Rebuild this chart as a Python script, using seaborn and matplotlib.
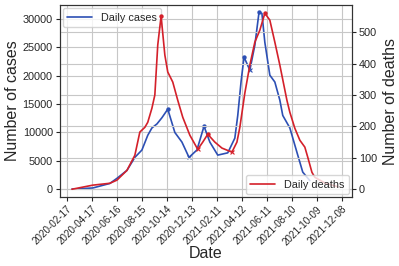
import matplotlib

matplotlib.use("Agg")
import matplotlib.dates as mdates
import matplotlib.pyplot as plt
import pandas as pd
import seaborn as sns

# --- Data ---
CASE_DATES = [
    "2020-02-29", "2020-04-19", "2020-05-30", "2020-06-16", "2020-07-10",
    "2020-07-29", "2020-08-15", "2020-08-29", "2020-09-08", "2020-09-20",
    "2020-10-02", "2020-10-16", "2020-11-02", "2020-11-19", "2020-12-06",
    "2020-12-25", "2021-01-11", "2021-01-25", "2021-02-13", "2021-03-09",
    "2021-03-26", "2021-04-02", "2021-04-10", "2021-04-17", "2021-05-01",
    "2021-05-13", "2021-05-23", "2021-05-30", "2021-06-06", "2021-06-18",
    "2021-06-30", "2021-07-12", "2021-07-19", "2021-08-05", "2021-08-22",
    "2021-09-05", "2021-09-22",
]
DAILY_CASES = [
    0, 200, 1000, 1900, 3300,
    5600, 6900, 9500, 10800, 11500,
    12600, 14100, 10000, 8300, 5600,
    6900, 11100, 8300, 6000, 6400,
    9000, 13000, 19000, 23300, 21000,
    25400, 31200, 31000, 25900, 20100,
    18900, 15700, 13000, 10800, 6500,
    3000, 1500,
]
CASE_PEAKS = ["2020-10-16", "2021-01-11", "2021-04-17", "2021-05-23"]
CASE_TROUGHS = ["2020-12-06", "2021-05-01"]

DEATH_DATES = [
    "2020-02-29", "2020-04-19", "2020-05-30", "2020-06-16", "2020-07-10",
    "2020-07-29", "2020-08-10", "2020-08-22", "2020-08-29", "2020-09-08",
    "2020-09-15", "2020-09-22", "2020-09-30", "2020-10-09", "2020-10-16",
    "2020-10-28", "2020-11-09", "2020-11-21", "2020-12-08", "2020-12-27",
    "2021-01-08", "2021-01-20", "2021-02-06", "2021-02-23", "2021-03-19",
    "2021-03-31", "2021-04-07", "2021-04-19", "2021-05-01", "2021-05-13",
    "2021-05-25", "2021-06-06", "2021-06-18", "2021-06-30", "2021-07-12",
    "2021-07-29", "2021-08-05", "2021-08-17", "2021-08-29", "2021-09-10",
    "2021-09-17", "2021-09-27", "2021-10-04", "2021-10-28", "2021-11-28",
]
DAILY_DEATHS = [
    0, 13, 19, 29, 60,
    108, 182, 197, 213, 258,
    300, 459, 551, 427, 373,
    341, 283, 229, 172, 127,
    150, 175, 150, 131, 118,
    150, 197, 306, 395, 468,
    506, 560, 538, 468, 395,
    283, 245, 194, 156, 134,
    102, 54, 38, 20, 8,
]
DEATH_PEAKS = ["2020-09-30", "2021-01-20", "2021-06-06"]
DEATH_TROUGHS = ["2020-12-27", "2021-03-19"]

TICK_START = "2020-02-17"
N_TICKS = 12
CASE_TICKS = [0, 5000, 10000, 15000, 20000, 25000, 30000]
DEATH_TICKS = [0, 100, 200, 300, 400, 500]

BLUE = "#2c4fb4"
RED = "#d4202a"

cases = pd.DataFrame({"date": pd.to_datetime(CASE_DATES), "cases": DAILY_CASES})
deaths = pd.DataFrame({"date": pd.to_datetime(DEATH_DATES), "deaths": DAILY_DEATHS})

sns.set_style(
    "whitegrid",
    {"axes.edgecolor": "0.2", "xtick.bottom": True, "ytick.left": True,
     "grid.color": "0.78"},
)
plt.rcParams["font.family"] = ["Liberation Sans", "DejaVu Sans"]

fig = plt.figure(figsize=(3.99, 2.66), dpi=100)
ax = fig.add_axes([0.150, 0.259, 0.732, 0.722])
ax2 = ax.twinx()

sns.lineplot(data=cases, x="date", y="cases", ax=ax, color=BLUE, lw=1.2,
             label="Daily cases")
sns.scatterplot(data=cases[cases["date"].isin(pd.to_datetime(CASE_PEAKS))],
                x="date", y="cases", ax=ax, color=BLUE, s=10, linewidth=0,
                legend=False)
sns.scatterplot(data=cases[cases["date"].isin(pd.to_datetime(CASE_TROUGHS))],
                x="date", y="cases", ax=ax, color=BLUE, marker="x", s=8,
                linewidth=0.8, legend=False)

sns.lineplot(data=deaths, x="date", y="deaths", ax=ax2, color=RED, lw=1.2,
             label="Daily deaths")
sns.scatterplot(data=deaths[deaths["date"].isin(pd.to_datetime(DEATH_PEAKS))],
                x="date", y="deaths", ax=ax2, color=RED, s=10, linewidth=0,
                legend=False)
sns.scatterplot(data=deaths[deaths["date"].isin(pd.to_datetime(DEATH_TROUGHS))],
                x="date", y="deaths", ax=ax2, color=RED, marker="x", s=8,
                linewidth=0.8, legend=False)

ticks = pd.date_range(TICK_START, periods=N_TICKS, freq="60D")
ax.set_xticks(ticks)
ax.xaxis.set_major_formatter(mdates.DateFormatter("%Y-%m-%d"))
ax.set_xlim(pd.Timestamp("2020-01-31"), pd.Timestamp("2022-01-01"))
for lab in ax.get_xticklabels():
    lab.set_rotation(45)
    lab.set_ha("right")
    lab.set_rotation_mode("anchor")

ax.set_ylim(-1410, 32480)
ax.set_yticks(CASE_TICKS)
ax2.set_ylim(-25, 586)
ax2.set_yticks(DEATH_TICKS)
ax2.grid(True, color="0.78")

ax.tick_params(axis="y", labelsize=7.8, length=3, pad=2)
ax.tick_params(axis="x", labelsize=7.1, length=3, pad=2)
ax2.tick_params(axis="y", labelsize=7.8, length=3, pad=2, right=True)

ax.set_xlabel("Date", fontsize=11.5, labelpad=-1)
ax.set_ylabel("Number of cases", fontsize=11.5, labelpad=2)
ax2.set_ylabel("Number of deaths", fontsize=11.5, labelpad=4)

ax.legend(loc="upper left", fontsize=7.8, handlelength=2.3,
          borderaxespad=0.3)
ax2.legend(loc="lower right", fontsize=7.8, handlelength=2.3,
           borderaxespad=0.3)

fig.savefig("out.png", dpi=100)
